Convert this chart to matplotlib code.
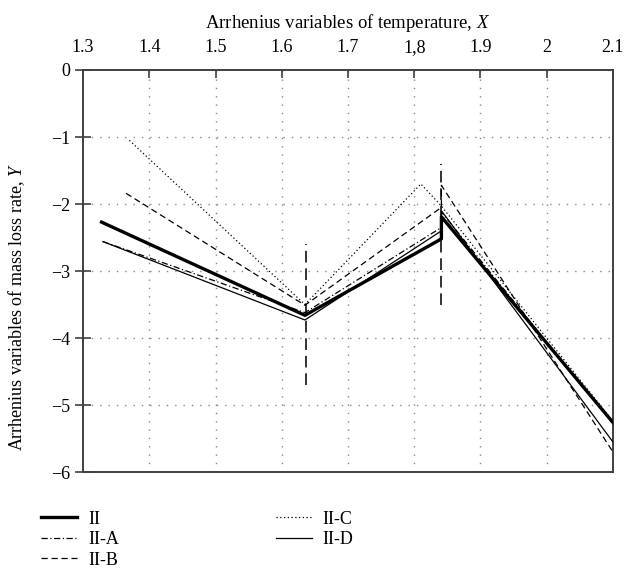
import numpy as np
import matplotlib.pyplot as plt

plt.rcParams['font.family'] = ['Liberation Serif', 'DejaVu Serif']
plt.rcParams['mathtext.fontset'] = 'custom'
plt.rcParams['mathtext.it'] = 'Liberation Serif:italic'
plt.rcParams['mathtext.rm'] = 'Liberation Serif'

# series values (x, y); a repeated x is the jump at the transition
ii_x = [1.328, 1.635, 1.841, 1.841, 2.1]
ii_y = [-2.27, -3.66, -2.52, -2.19, -5.26]
iia_x = [1.33, 1.635, 1.841, 1.841, 2.1]
iia_y = [-2.56, -3.62, -2.35, -2.12, -5.28]
iib_x = [1.365, 1.635, 1.841, 1.841, 2.1]
iib_y = [-1.84, -3.51, -2.05, -1.72, -5.7]
iic_x = [1.37, 1.635, 1.81, 1.841, 2.1]
iic_y = [-1.05, -3.5, -1.7, -2.03, -5.24]
iid_x = [1.33, 1.635, 1.841, 1.841, 2.1]
iid_y = [-2.56, -3.73, -2.4, -2.1, -5.55]

# transition markers
trans_x = [1.637, 1.841]
trans_lo = [-4.7, -3.5]
trans_hi = [-2.6, -1.4]

xticks = [1.3, 1.4, 1.5, 1.6, 1.7, 1.8, 1.9, 2.0, 2.1]
xlabels = ['1.3', '1.4', '1.5', '1.6', '1.7', '1,8', '1.9', '2', '2.1']
yticks = [0, -1, -2, -3, -4, -5, -6]
ylabels = ['0', '\u22121', '\u22122', '\u22123', '\u22124', '\u22125', '\u22126']

fig = plt.figure(figsize=(6.26, 5.88), dpi=100)
ax = fig.add_axes([0.1326, 0.197, 0.8466, 0.684])

gridc = '#888888'
for gx in xticks[1:-1]:
    ax.axvline(gx, color=gridc, lw=1.0, ls=(0, (1, 5)), zorder=1)
for gy in yticks[1:-1]:
    ax.axhline(gy, color=gridc, lw=1.0, ls=(0, (1, 5)), zorder=1)

for tx, lo, hi in zip(trans_x, trans_lo, trans_hi):
    ax.plot([tx, tx], [lo, hi], color='#333333', lw=1.4, ls=(0, (6, 3)), zorder=2)

ax.plot(ii_x, ii_y, color='black', lw=2.4, label='II', zorder=3)
ax.plot(iia_x, iia_y, color='black', lw=0.9, ls=(0, (5, 2, 1, 2)), label='II-A', zorder=3)
ax.plot(iib_x, iib_y, color='black', lw=0.9, ls=(0, (5, 3)), label='II-B', zorder=3)
ax.plot(iic_x, iic_y, color='black', lw=0.9, ls=(0, (1, 2)), label='II-C', zorder=3)
ax.plot(iid_x, iid_y, color='black', lw=0.9, label='II-D', zorder=3)

ax.set_xlim(1.3, 2.1)
ax.set_ylim(-6, 0)
ax.xaxis.tick_top()
ax.xaxis.set_label_position('top')
ax.set_xticks(xticks)
ax.set_xticklabels(xlabels)
ax.set_yticks(yticks)
ax.set_yticklabels(ylabels)
ax.tick_params(axis='x', direction='in', length=6, width=1.2, color='#404040',
               labelsize=13, pad=10, top=True, bottom=False)
ax.tick_params(axis='y', direction='inout', length=12, width=1.2, color='#404040',
               labelsize=13, pad=3)
for s in ax.spines.values():
    s.set_color('#404040')
    s.set_linewidth(1.4)

ax.set_xlabel('Arrhenius variables of temperature, $\\it{X}$', fontsize=13.5, labelpad=8)
ax.set_ylabel('Arrhenius variables of mass loss rate, $\\it{Y}$', fontsize=13)
ax.yaxis.set_label_coords(-0.106, 0.41)

ax.legend(loc='upper left', bbox_to_anchor=(-0.11, -0.055), ncol=2, frameon=False,
          fontsize=13, handlelength=2.0, columnspacing=8.7, labelspacing=0.2,
          handletextpad=0.6)

fig.savefig('out.png', dpi=100)
